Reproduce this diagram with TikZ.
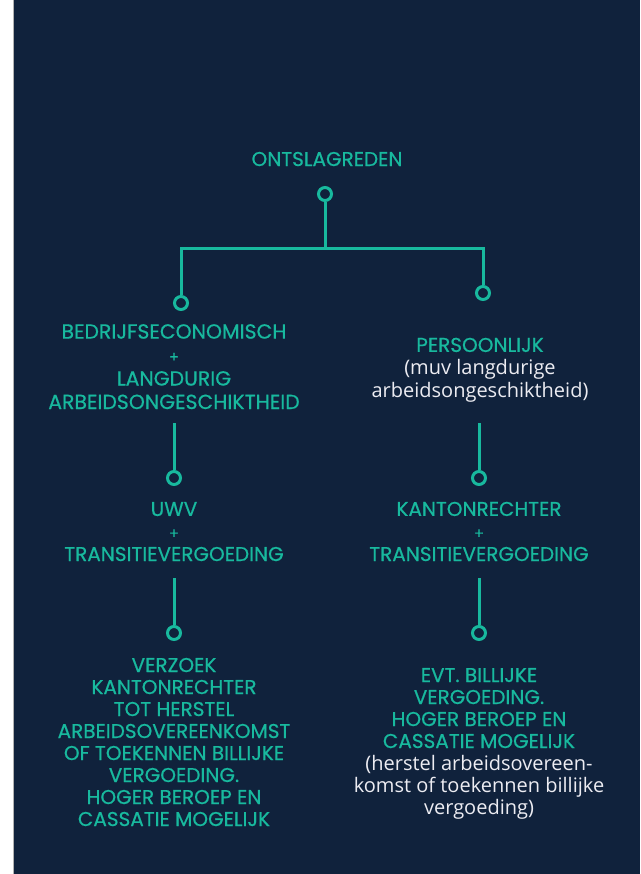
\documentclass[tikz,border=0pt]{standalone}
\usepackage{fontspec}
\setmainfont{Open Sans}
\newfontfamily\kopfont[FakeBold=0.6]{Poppins}
\usepackage{tikz}
\definecolor{navy}{RGB}{16,34,60}
\definecolor{groen}{RGB}{24,185,158}
\definecolor{wit}{RGB}{236,236,242}

\begin{document}
\begin{tikzpicture}[x=0.75pt,y=-0.75pt,
    lijn/.style={draw=groen, line width=2.25pt},
    bol/.style={circle, draw=groen, line width=2.25pt, fill=navy, minimum size=9.75pt, inner sep=0pt},
    kop/.style={text=groen, align=center, anchor=base, inner sep=0pt, font=\kopfont\fontsize{15}{16.5}\selectfont},
    wit/.style={color=wit}]
      % achtergrond
      \useasboundingbox (0,0) rectangle (640,874);
      \fill[white] (0,0) rectangle (640,874);
      \fill[navy] (14,0) rectangle (640,874);
      \draw[gray!60, line width=0.6pt] (13.7,0) -- (13.7,874);

      % bovenste deel
      \node[kop] (reden) at (327,166) {ONTSLAGREDEN};
      \node[bol] (b0) at (325,194) {};
      \coordinate (splits) at (325,248);
      \node[bol] (bl1) at (181,303) {};
      \node[bol] (br1) at (483,293) {};
      \draw[lijn] (b0) -- (splits);
      \draw[lijn] (splits) -| (bl1);
      \draw[lijn] (splits) -| (br1);

      % linker kolom
      \node[kop, font=\kopfont\fontsize{15.3}{17.6}\selectfont] (bedrijf) at (174,409)
        {BEDRIJFSECONOMISCH\\{\fontsize{11}{17.6}\selectfont +}\\LANGDURIG\\ARBEIDSONGESCHIKTHEID};
      \coordinate (l2) at (174,423);
      \node[bol] (bl2) at (174,478) {};
      \draw[lijn] (l2) -- (bl2);
      \node[kop, font=\kopfont\fontsize{15}{16.9}\selectfont] (uwv) at (174,561)
        {UWV\\{\fontsize{11}{16.9}\selectfont +}\\TRANSITIEVERGOEDING};
      \coordinate (l3) at (174,578);
      \node[bol] (bl3) at (174,633) {};
      \draw[lijn] (l3) -- (bl3);
      \node[kop] (verzoek) at (174,826)
        {VERZOEK\\KANTONRECHTER\\TOT HERSTEL\\ARBEIDSOVEREENKOMST\\OF TOEKENNEN BILLIJKE\\VERGOEDING.\\HOGER BEROEP EN\\CASSATIE MOGELIJK};

      % rechter kolom
      \node[kop, font=\kopfont\fontsize{15}{16.9}\selectfont] (persoon) at (480,397)
        {PERSOONLIJK\\{\rmfamily\color{wit}(muv langdurige}\\{\rmfamily\color{wit}arbeidsongeschiktheid)}};
      \coordinate (r2) at (479,423);
      \node[bol] (br2) at (479,478) {};
      \draw[lijn] (r2) -- (br2);
      \node[kop, font=\kopfont\fontsize{15}{16.9}\selectfont] (kanton) at (479,561)
        {KANTONRECHTER\\{\fontsize{11}{16.9}\selectfont +}\\TRANSITIEVERGOEDING};
      \coordinate (r3) at (479,578);
      \node[bol] (br3) at (479,633) {};
      \draw[lijn] (r3) -- (br3);
      \node[kop] (billijk) at (479,814)
        {EVT. BILLIJKE\\VERGOEDING.\\HOGER BEROEP EN\\CASSATIE MOGELIJK\\{\rmfamily\color{wit}(herstel arbeidsovereen-}\\{\rmfamily\color{wit}komst of toekennen billijke}\\{\rmfamily\color{wit}vergoeding)}};
\end{tikzpicture}
\end{document}
